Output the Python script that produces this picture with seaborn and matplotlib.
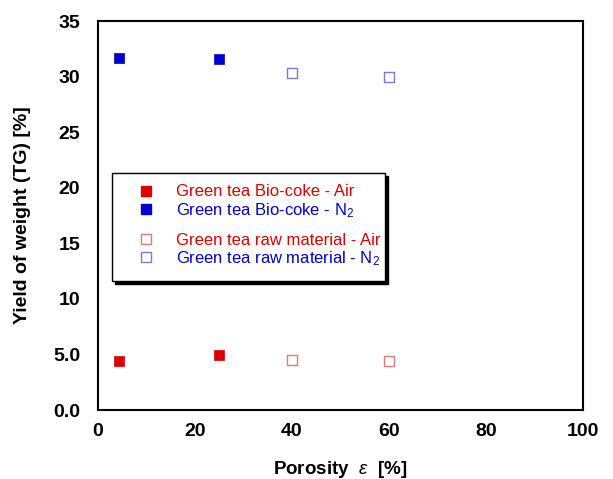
import matplotlib
matplotlib.use("Agg")
import matplotlib.pyplot as plt
import seaborn as sns
import pandas as pd
from matplotlib.lines import Line2D
from matplotlib.patches import Rectangle

# data
coke_x = [4.3, 25]
coke_air = [4.4, 4.95]
coke_n2 = [31.7, 31.6]
raw_x = [40, 60]
raw_air = [4.5, 4.4]
raw_n2 = [30.3, 30.0]
labels = ["Green tea Bio-coke - Air", "Green tea Bio-coke - N$_2$",
          "Green tea raw material - Air", "Green tea raw material - N$_2$"]
x_ticks = [0, 20, 40, 60, 80, 100]
y_ticks = [0, 5, 10, 15, 20, 25, 30, 35]
y_tick_labels = ["0.0", "5.0", "10", "15", "20", "25", "30", "35"]

sns.set_theme(style="white")
plt.rcParams['font.family'] = ['Liberation Sans', 'DejaVu Sans']
plt.rcParams['mathtext.fontset'] = 'custom'
plt.rcParams['mathtext.rm'] = 'Liberation Sans'
plt.rcParams['mathtext.it'] = 'Liberation Sans:italic'

RED = "#dd0000"
BLUE = "#0000cc"
RED_L = "#e07a7a"
BLUE_L = "#7a7ad6"

fig = plt.figure(figsize=(6.13, 4.79), dpi=100)
ax = fig.add_axes([0.160, 0.144, 0.791, 0.812])

df_ca = pd.DataFrame({"x": coke_x, "y": coke_air})
df_cn = pd.DataFrame({"x": coke_x, "y": coke_n2})
df_ra = pd.DataFrame({"x": raw_x, "y": raw_air})
df_rn = pd.DataFrame({"x": raw_x, "y": raw_n2})

ms = 50
sns.scatterplot(data=df_ca, x="x", y="y", marker="s", s=ms, color=RED, edgecolor=RED, linewidth=0.5, ax=ax)
sns.scatterplot(data=df_cn, x="x", y="y", marker="s", s=ms, color=BLUE, edgecolor=BLUE, linewidth=0.5, ax=ax)
sns.scatterplot(data=df_ra, x="x", y="y", marker="s", s=ms, facecolor="white", edgecolor=RED_L, linewidth=1.0, ax=ax)
sns.scatterplot(data=df_rn, x="x", y="y", marker="s", s=ms, facecolor="white", edgecolor=BLUE_L, linewidth=1.0, ax=ax)

ax.set_xlim(0, 100)
ax.set_ylim(0, 35)
ax.set_xticks(x_ticks)
ax.set_yticks(y_ticks)
ax.set_yticklabels(y_tick_labels)
ax.tick_params(direction="in", length=5, width=1, color="#888888", labelsize=14,
               labelcolor="black")
ax.tick_params(axis="x", pad=9)
ax.tick_params(axis="y", pad=13)
for lab in ax.get_xticklabels() + ax.get_yticklabels():
    lab.set_fontweight("bold")
for sp in ax.spines.values():
    sp.set_color("black")
    sp.set_linewidth(1.5)

ax.set_xlabel("Porosity  $\\varepsilon$  [%]", fontsize=13.5, fontweight="bold",
              labelpad=14, color="black")
ax.set_ylabel("Yield of weight (TG) [%]", fontsize=14, fontweight="bold",
              labelpad=16, color="black")

# legend box with shadow
bx0, by0, bw, bh = 0.029, 0.333, 0.562, 0.277
ax.add_patch(Rectangle((bx0 + 0.006, by0 - 0.008), bw, bh, transform=ax.transAxes,
                       facecolor="black", edgecolor="black", zorder=4))
ax.add_patch(Rectangle((bx0, by0), bw, bh, transform=ax.transAxes,
                       facecolor="white", edgecolor="black", linewidth=1.0, zorder=5))

h1 = [Line2D([], [], marker="s", ls="", color=RED, markersize=6.5),
      Line2D([], [], marker="s", ls="", color=BLUE, markersize=6.5)]
h2 = [Line2D([], [], marker="s", ls="", markerfacecolor="white", markeredgecolor=RED_L, markersize=6.5),
      Line2D([], [], marker="s", ls="", markerfacecolor="white", markeredgecolor=BLUE_L, markersize=6.5)]

kw = dict(loc="upper left", frameon=False, fontsize=12, labelspacing=0.1,
          handletextpad=0.8, handlelength=2.0, borderpad=0, borderaxespad=0)
leg1 = ax.legend(h1, labels[:2], bbox_to_anchor=(0.064, 0.580), **kw)
for t, c in zip(leg1.get_texts(), [RED, BLUE]):
    t.set_color(c)
leg1.set_zorder(6)
ax.add_artist(leg1)
leg2 = ax.legend(h2, labels[2:], bbox_to_anchor=(0.064, 0.456), **kw)
for t, c in zip(leg2.get_texts(), [RED, BLUE]):
    t.set_color(c)
leg2.set_zorder(6)

fig.savefig("out.png", dpi=100)
